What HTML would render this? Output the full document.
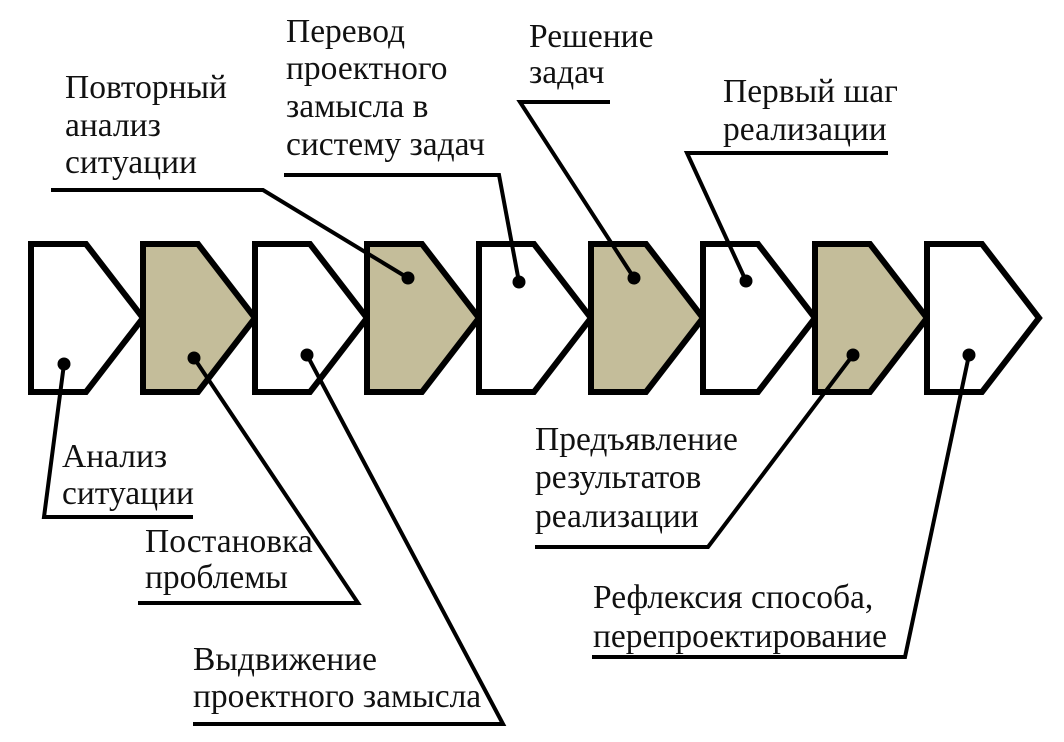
<!DOCTYPE html>
<html>
<head>
<meta charset="utf-8">
<style>
  html, body { margin: 0; padding: 0; background: #ffffff; }
  body { width: 1064px; height: 742px; overflow: hidden; }
  svg { display: block; }
  text { font-family: "Liberation Serif", "DejaVu Serif", serif; font-size: 33.5px; fill: #111; }
</style>
</head>
<body>
<svg width="1064" height="742" viewBox="0 0 1064 742" xmlns="http://www.w3.org/2000/svg">
  <!-- pentagon arrows -->
  <g stroke="#000" stroke-width="6" stroke-linejoin="miter" stroke-miterlimit="10">
    <polygon points="31,244 86,244 143,318 86,392 31,392" fill="#ffffff"/>
    <polygon points="143,244 198,244 255,318 198,392 143,392" fill="#c4bd9a"/>
    <polygon points="255,244 310,244 367,318 310,392 255,392" fill="#ffffff"/>
    <polygon points="367,244 422,244 479,318 422,392 367,392" fill="#c4bd9a"/>
    <polygon points="479,244 534,244 591,318 534,392 479,392" fill="#ffffff"/>
    <polygon points="591,244 646,244 703,318 646,392 591,392" fill="#c4bd9a"/>
    <polygon points="703,244 758,244 815,318 758,392 703,392" fill="#ffffff"/>
    <polygon points="815,244 870,244 927,318 870,392 815,392" fill="#c4bd9a"/>
    <polygon points="927,244 982,244 1039,318 982,392 927,392" fill="#ffffff"/>
  </g>

  <!-- connectors -->
  <g stroke="#000" stroke-width="4" fill="none" stroke-linejoin="miter">
    <polyline points="64,364 44,517 193,517"/>
    <polyline points="194,358 358,603 138,603"/>
    <polyline points="307,355 503,724 193,724"/>
    <polyline points="408,278 263,190 51,190"/>
    <polyline points="519,282 499,175 284,175"/>
    <polyline points="634,278 520,102 610,102"/>
    <polyline points="746,281 687,153 888,153"/>
    <polyline points="853,355 708,547 535,547"/>
    <polyline points="969,355 905,657 592,657"/>
  </g>

  <!-- dots -->
  <g fill="#000">
    <circle cx="64" cy="364" r="6.5"/>
    <circle cx="194" cy="358" r="6.5"/>
    <circle cx="307" cy="355" r="6.5"/>
    <circle cx="408" cy="278" r="6.5"/>
    <circle cx="519" cy="282" r="6.5"/>
    <circle cx="634" cy="278" r="6.5"/>
    <circle cx="746" cy="281" r="6.5"/>
    <circle cx="853" cy="355" r="6.5"/>
    <circle cx="969" cy="355" r="6.5"/>
  </g>

  <!-- labels top -->
  <text x="65" y="98">Повторный</text>
  <text x="65" y="136">анализ</text>
  <text x="65" y="173">ситуации</text>

  <text x="286" y="42">Перевод</text>
  <text x="286" y="79">проектного</text>
  <text x="286" y="117">замысла в</text>
  <text x="286" y="155">систему задач</text>

  <text x="529" y="47">Решение</text>
  <text x="529" y="83">задач</text>

  <text x="723" y="102">Первый шаг</text>
  <text x="723" y="140">реализации</text>

  <!-- labels bottom -->
  <text x="62" y="467">Анализ</text>
  <text x="62" y="504">ситуации</text>

  <text x="145" y="552">Постановка</text>
  <text x="145" y="588">проблемы</text>

  <text x="193" y="670">Выдвижение</text>
  <text x="193" y="707">проектного замысла</text>

  <text x="535" y="450">Предъявление</text>
  <text x="535" y="488">результатов</text>
  <text x="535" y="527">реализации</text>

  <text x="593" y="608">Рефлексия способа,</text>
  <text x="593" y="647">перепроектирование</text>
</svg>
</body>
</html>
